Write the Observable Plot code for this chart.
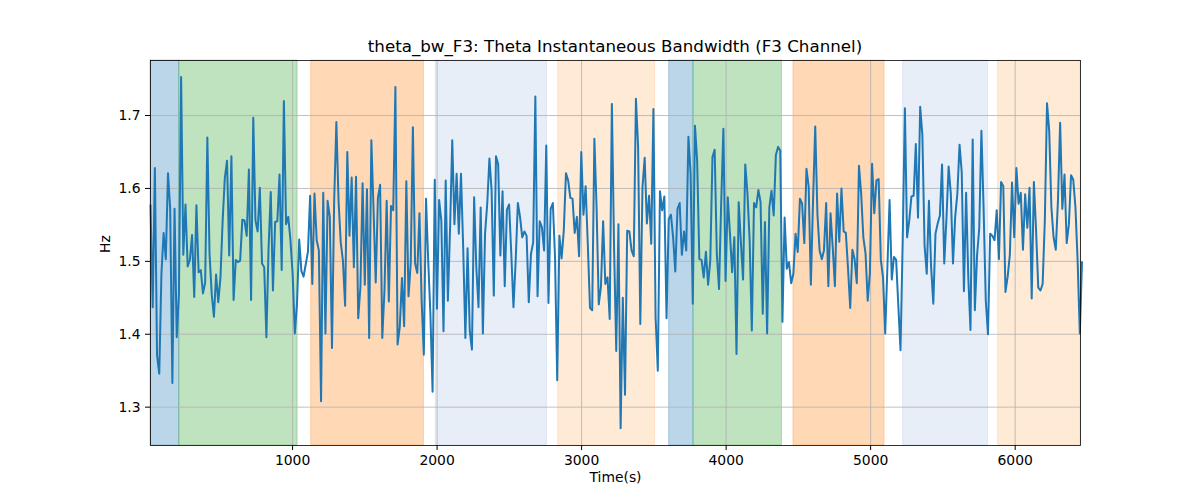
<!DOCTYPE html>
<html><head><meta charset="utf-8">
<script src="https://cdn.jsdelivr.net/npm/d3@7"></script>
<script src="https://cdn.jsdelivr.net/npm/@observablehq/plot@0.6"></script>
<style>
body{margin:0;background:#fff;font-family:"DejaVu Sans",sans-serif;}
#title{margin-left:150px;width:930px;text-align:center;font-size:16.7px;height:56px;box-sizing:border-box;padding-top:36px;line-height:20px;color:#000;}
#chart svg{display:block;}
</style></head><body>
<div id="title">theta_bw_F3: Theta Instantaneous Bandwidth (F3 Channel)</div>
<div id="chart"></div>
<script>
const tStart = 17;
const tStep = 15.13;
const values = [
1.577,1.437,1.628,1.371,1.346,1.483,1.539,1.503,1.621,1.572,
1.333,1.572,1.396,1.455,1.753,1.509,1.578,1.493,1.502,1.536,
1.451,1.577,1.485,1.488,1.456,1.471,1.670,1.510,1.455,1.424,
1.482,1.444,1.478,1.556,1.615,1.638,1.508,1.644,1.447,1.502,
1.499,1.501,1.557,1.556,1.535,1.626,1.447,1.697,1.556,1.541,
1.601,1.497,1.492,1.396,1.519,1.595,1.460,1.554,1.555,1.619,
1.488,1.720,1.551,1.561,1.529,1.483,1.401,1.442,1.530,1.487,
1.479,
1.496,1.513,1.590,1.469,1.593,1.529,1.515,1.308,1.594,1.401,
1.583,1.561,1.381,1.583,1.691,1.583,1.526,1.501,1.439,1.650,
1.535,1.615,1.492,1.616,1.422,1.465,1.607,1.468,1.599,1.395,
1.666,1.572,1.471,1.587,1.605,1.395,1.460,1.583,1.445,1.576,
1.570,1.739,1.386,1.410,1.477,1.411,1.610,1.452,1.497,1.684,
1.497,1.484,1.566,1.446,1.372,1.586,1.501,1.428,1.321,1.612,
1.435,1.584,1.556,1.404,1.611,1.446,1.545,1.666,1.551,1.620,
1.538,
1.620,1.519,1.395,1.518,1.405,1.379,1.588,1.492,1.437,1.574,
1.401,1.538,1.579,1.641,1.597,1.453,1.644,1.633,1.508,1.596,
1.466,1.571,1.578,1.510,1.437,1.501,1.580,1.561,1.533,1.541,
1.535,1.444,1.510,1.526,1.726,1.452,1.555,1.547,1.515,1.659,
1.443,1.572,1.580,1.506,1.337,1.535,1.504,1.542,1.621,1.611,
1.587,1.586,1.539,1.561,1.507,1.650,1.564,1.603,1.522,1.436,
1.433,1.668,1.574,1.441,1.465,1.555,1.469,1.478,1.421,1.716,
1.519,1.377,1.551,1.271,1.450,1.317,1.542,1.541,1.515,1.507,
1.723,1.657,1.414,1.602,1.642,1.552,1.590,1.524,1.709,1.423,
1.350,1.596,1.570,1.589,1.422,1.558,1.564,1.533,1.486,1.572,
1.580,1.509,1.541,1.515,1.671,1.620,1.442,1.686,1.638,1.503,
1.502,1.478,1.513,1.468,1.501,1.643,1.653,1.510,1.462,1.581,
1.682,1.473,1.588,1.538,1.485,1.533,1.373,1.581,1.526,1.475,
1.633,1.593,1.529,1.405,1.580,1.574,1.598,1.581,1.428,1.554,
1.401,1.574,
1.597,1.563,1.646,1.657,1.652,1.417,1.560,1.490,1.499,1.470,
1.483,1.538,1.513,1.586,1.579,1.525,1.627,1.602,1.468,1.583,
1.685,1.565,1.515,1.503,1.515,1.580,1.466,1.566,1.519,1.466,
1.593,1.527,1.600,1.541,1.539,1.490,1.436,1.516,1.503,1.470,
1.631,1.593,1.533,1.511,1.446,1.484,1.634,1.566,1.611,1.613,
1.502,1.478,1.401,1.492,1.584,1.475,1.506,1.502,1.439,1.378,
1.529,1.710,1.533,1.556,1.589,1.590,1.661,1.560,1.712,1.673,
1.522,1.483,
1.583,1.492,1.442,1.538,1.552,1.563,1.633,1.497,1.558,1.630,
1.593,1.497,1.561,1.593,1.660,1.622,1.459,1.594,1.478,1.406,
1.667,1.433,1.508,1.545,1.679,1.572,1.446,1.400,1.538,1.535,
1.529,1.570,1.503,1.609,1.603,1.458,1.479,1.509,1.608,1.533,
1.628,1.579,1.594,1.516,1.592,1.546,1.601,1.449,1.609,1.542,
1.464,1.460,1.469,1.556,1.717,1.679,1.574,1.533,1.516,1.583,
1.690,1.572,1.619,1.525,1.551,1.618,1.612,1.574,1.501,1.401,
1.499
];
const spanStart = [17, 216, 1129, 1990, 2838, 3606, 3774, 4466, 5225, 5882];
const spanEnd   = [216, 1035, 1909, 2760, 3509, 3774, 4386, 5096, 5813, 6452];
const spanColor = ["#1f77b4","#2ca02c","#ff7f0e","#aec7e8","#ffbb78","#1f77b4","#2ca02c","#ff7f0e","#aec7e8","#ffbb78"];
const xTicks = [1000, 2000, 3000, 4000, 5000, 6000];
const yTicks = [1.3, 1.4, 1.5, 1.6, 1.7];
const xDomain = [17, 6452];
const yDomain = [1.2474, 1.7755];

const series = values.map((v, i) => ({t: tStart + i * tStep, v}));
const spans = spanStart.map((s, i) => ({x1: s, x2: spanEnd[i], c: spanColor[i]}));

const plot = Plot.plot({
  width: 1200, height: 444,
  marginTop: 4, marginLeft: 150, marginRight: 120, marginBottom: 55,
  style: {fontFamily: "DejaVu Sans", fontSize: "13.9px", color: "black", background: "white"},
  x: {domain: xDomain},
  y: {domain: yDomain},
  color: {type: "identity"},
  marks: [
    Plot.rect(spans, {x1: "x1", x2: "x2", fill: "c", fillOpacity: 0.3, stroke: "c", strokeOpacity: 0.3, strokeWidth: 1}),
    Plot.gridX(xTicks, {stroke: "#b0b0b0", strokeOpacity: 1, strokeWidth: 0.8}),
    Plot.gridY(yTicks, {stroke: "#b0b0b0", strokeOpacity: 1, strokeWidth: 0.8}),
    Plot.line(series, {x: "t", y: "v", stroke: "#1f77b4", strokeWidth: 2}),
    Plot.frame({stroke: "black", strokeWidth: 0.8}),
    Plot.axisX(xTicks, {tickSize: 5, tickPadding: 5, label: null, tickFormat: d3.format("d"), fontSize: 13.9}),
    Plot.axisY(yTicks, {tickSize: 5, tickPadding: 5, label: null, tickFormat: d => d.toFixed(1), fontSize: 13.9}),
    Plot.text(["Hz"], {frameAnchor: "left", dx: -45, rotate: -90, text: d => d, fontSize: 13.9}),
    Plot.text(["Time(s)"], {frameAnchor: "bottom", dy: 36, text: d => d, fontSize: 13.9})
  ]
});
document.getElementById("chart").appendChild(plot);
</script>
</body></html>
